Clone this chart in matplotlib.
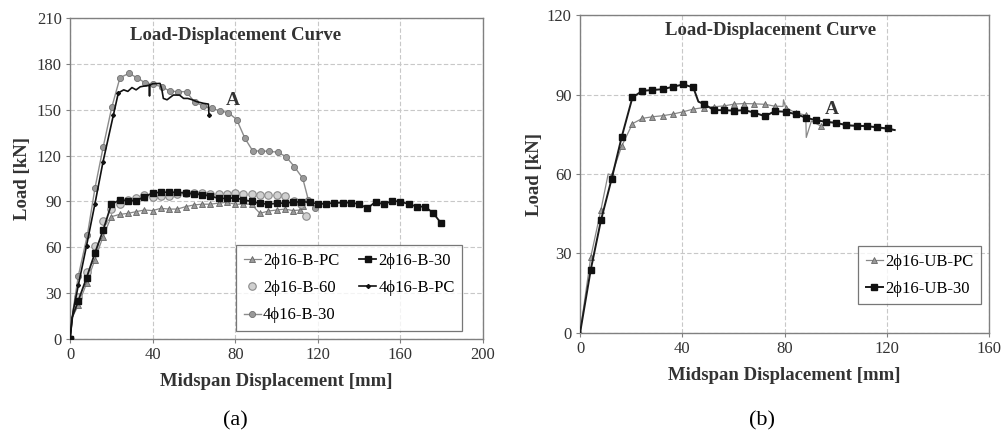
import matplotlib
matplotlib.use('Agg')
import matplotlib.pyplot as plt

plt.rcParams['font.family'] = ['Liberation Serif', 'DejaVu Serif']

# ---- panel (a) data, midspan displacement [mm] / load [kN]
b_pc_x = [0, 1, 4, 8, 12, 16, 20, 24, 28, 32, 36, 40, 44, 48, 52, 56, 60, 64, 68, 72, 76,
          80, 84, 88, 90, 92, 96, 100, 104, 108, 111.5, 112.7]
b_pc_y = [0, 14, 22, 36.4, 51.7, 67, 80, 81.5, 82.2, 83.3, 84.4, 84, 85.5, 85, 85, 86.6, 87.7,
          88.2, 88.2, 88.9, 89.4, 88.2, 88.2, 88.2, 85, 82.2, 83.7, 84.4, 85, 84, 84.4, 87]

b_30_x = [0, 1, 4, 8, 12, 16, 20, 24, 28, 32, 36, 40, 44, 48, 52, 56, 60, 64, 68, 72, 76, 80,
          84, 88, 92, 96, 100, 104, 108, 112, 116, 120, 124, 128, 132, 136, 140, 144, 148, 152,
          156, 160, 164, 168, 172, 176, 179.7]
b_30_y = [0, 14, 25, 40, 56, 71, 88, 91, 90.5, 90.5, 93, 95.5, 96, 96, 96, 95.5, 95, 94.5, 93.5,
          92, 92, 92.4, 91, 90, 88.7, 88.3, 88.7, 89, 89.5, 89.8, 89.5, 88.3, 88.6, 89, 89.2, 89.2,
          88.3, 85.5, 89.8, 88, 90.5, 89.8, 88.3, 86.6, 86.6, 82.2, 75.7]

b_60_x = [0, 4, 8, 12, 16, 20, 24, 28, 32, 36, 40, 44, 48, 52, 56, 60, 64, 68, 72, 76, 80, 84,
          88, 92, 96, 100, 104, 108.5, 112, 114.3]
b_60_y = [0, 27.7, 44, 60.8, 77.2, 84.8, 88.2, 91, 92.2, 94.4, 93, 93.4, 93.4, 95, 95.7, 95.7,
          95.3, 94.6, 94.6, 95, 95.7, 94.6, 94.6, 94, 94, 94, 93.4, 90.5, 88, 80.5]

b4_pc_x = [0, 1.5, 4, 8, 12, 16, 21, 23.4, 26, 28, 30, 32, 34, 36, 38.4, 38.5, 38.6, 40, 43.6,
           44.5, 45.2, 47, 50, 53, 55, 57, 59, 61.3, 64.6, 67, 67.3]
b4_pc_y = [0, 18, 35, 61, 88, 116, 146.5, 161, 163, 162, 164.5, 163, 165, 165.5, 166, 159, 166,
           167, 167.2, 163, 157.4, 156.5, 159.6, 159.6, 157.4, 157.4, 156.6, 155.3, 154.2, 153.7, 146.5]

b4_30_x = [0, 1.5, 4, 8.4, 12.1, 16.1, 20.2, 24.2, 28.6, 32.3, 36.3, 40.4, 44.4, 48.4, 52.4,
           56.5, 58.5, 60.5, 64.6, 68.6, 72.6, 76.7, 80.7, 84.7, 88.5, 92.5, 96.5, 100.5, 104.6,
           108.6, 112.7, 115.4, 118.4]
b4_30_y = [0, 19, 41, 68, 98.8, 125.8, 151.5, 171, 173.8, 171, 167.7, 166.6, 165, 162.2, 161.8,
           161.8, 158, 155, 152.4, 150.8, 149.3, 148, 143.6, 131.3, 123, 123, 122.8, 122.2, 119.3,
           112.8, 105.1, 91, 86]

# ---- panel (b) data
ub_pc_x = [0, 4.2, 8.2, 11, 12.4, 16.3, 20.5, 24.4, 28.3, 32.3, 36.2, 40.4, 44.3, 48.5, 52.4,
           56.4, 60.3, 64.2, 68.1, 72.3, 76.2, 79.4, 79.6, 80.4, 84.3, 88.3, 88.5, 90.5, 94.2,
           98, 102, 106, 110, 114, 118, 123]
ub_pc_y = [0, 28.7, 46.6, 60, 59.6, 70.5, 79, 81, 81.6, 82, 82.6, 83.5, 84.5, 85.1, 85.4, 85.7,
           86.4, 86.6, 86.5, 86.3, 85.6, 85.5, 88, 85.1, 83.1, 82.2, 73.8, 80, 78.1, 79.4, 79,
           78.2, 78, 77.8, 77.2, 76.5]

ub_30_x = [0, 4.2, 8.2, 12.4, 16.3, 20.5, 24.4, 28.3, 32.3, 36.2, 40.4, 44.3, 46.3, 48.5, 52.4,
           56.4, 60.3, 64.2, 68.1, 72.3, 76.2, 80.4, 84.3, 88.3, 92.2, 96.4, 100.3, 104.2, 108.4,
           112.3, 116.3, 120.3, 123.1]
ub_30_y = [0, 23.9, 42.6, 58.3, 74, 88.9, 91.4, 91.7, 92, 92.9, 93.8, 92.7, 87.3, 86.4, 84.1,
           84.1, 83.9, 84.1, 83.2, 81.8, 83.7, 83.5, 82.6, 81.3, 80.3, 79.7, 79.3, 78.4, 78.2,
           78.1, 77.6, 77.2, 76.6]

a_labels = ['2\u03d516-B-PC', '2\u03d516-B-30', '2\u03d516-B-60', '4\u03d516-B-PC', '4\u03d516-B-30']
b_labels = ['2\u03d516-UB-PC', '2\u03d516-UB-30']


def skip(n, drop):
    return [i for i in range(n) if i not in drop]


fig = plt.figure(figsize=(10.03, 4.32), dpi=100)
ax1 = fig.add_axes([0.0698, 0.2153, 0.4118, 0.743])
ax2 = fig.add_axes([0.5783, 0.2292, 0.4078, 0.736])


def style_axes(ax, xmax, ymax, step_y, ylpad):
    ax.set_xlim(0, xmax)
    ax.set_ylim(0, ymax)
    ax.set_xticks(range(0, xmax + 1, 40))
    ax.set_yticks(range(0, ymax + 1, step_y))
    ax.grid(True, color='#c8c8c8', linestyle=(0, (4, 2)), linewidth=0.8)
    ax.set_axisbelow(True)
    for s in ax.spines.values():
        s.set_color('#808080')
        s.set_linewidth(1.0)
    ax.tick_params(length=3, width=0.8, color='#808080', labelsize=12, pad=3,
                   labelcolor='#333333')
    ax.set_xlabel('Midspan Displacement [mm]', fontsize=13.5, fontweight='bold',
                  color='#333333', labelpad=7)
    ax.set_ylabel('Load [kN]', fontsize=13.5, fontweight='bold', color='#333333',
                  labelpad=ylpad)


style_axes(ax1, 200, 210, 30, 4)
style_axes(ax2, 160, 120, 30, 3)

ax1.plot(b_pc_x, b_pc_y, color='#888888', lw=0.9, marker='^', ms=4.3,
         mfc='#999999', mec='#666666', mew=0.6, markevery=skip(len(b_pc_x), [1, 24]),
         label=a_labels[0], zorder=3)
ax1.plot(b_60_x, b_60_y, linestyle='none', marker='o', ms=5.4,
         mfc='#d0d0d0', mec='#8a8a8a', mew=0.8, label=a_labels[2], zorder=3)
ax1.plot(b_30_x, b_30_y, color='#1a1a1a', lw=1.3, marker='s', ms=4,
         mfc='#111111', mec='#111111', markevery=skip(len(b_30_x), [1]),
         label=a_labels[1], zorder=4)
ax1.plot(b4_30_x, b4_30_y, color='#8c8c8c', lw=1.0, marker='o', ms=4.4,
         mfc='#999999', mec='#707070', mew=0.6, markevery=skip(len(b4_30_x), [1, 16]),
         label=a_labels[4], zorder=3)
ax1.plot(b4_pc_x, b4_pc_y, color='#111111', lw=1.2, marker='D', ms=2,
         mfc='#111111', mec='#111111', markevery=[0, 2, 3, 4, 5, 6, 7, 30],
         label=a_labels[3], zorder=4)

h, l = ax1.get_legend_handles_labels()
hd = dict(zip(l, h))
# two columns, filled row by row: PC|30, 60|4PC, 4-30
col_order = [a_labels[0], a_labels[2], a_labels[4], a_labels[1], a_labels[3]]
leg = ax1.legend([hd[k] for k in col_order], col_order,
                 ncol=2, loc='lower right', bbox_to_anchor=(0.95, 0.025), borderaxespad=0,
                 fontsize=12, frameon=True, fancybox=False, edgecolor='#555555',
                 handlelength=1.0, handletextpad=0.15, columnspacing=1.2,
                 labelspacing=0.68, borderpad=0.45)
leg.get_frame().set_linewidth(0.9)

ax1.text(0.40, 0.947, 'Load-Displacement Curve', transform=ax1.transAxes,
         ha='center', va='center', fontsize=13.5, fontweight='bold', color='#333333')
ax1.text(78.8, 156, 'A', ha='center', va='center', fontsize=14, fontweight='bold',
         color='#333333')

ax2.plot(ub_pc_x, ub_pc_y, color='#888888', lw=0.9, marker='^', ms=4.3,
         mfc='#999999', mec='#666666', mew=0.6,
         markevery=[0, 1, 2, 4, 5, 6, 7, 8, 9, 10, 11, 12, 13, 14, 15, 16, 17, 18, 19, 20, 23,
                    24, 25, 28],
         label=b_labels[0], zorder=3)
ax2.plot(ub_30_x, ub_30_y, color='#1a1a1a', lw=1.4, marker='s', ms=4,
         mfc='#111111', mec='#111111', markevery=skip(len(ub_30_x), [0, 12, 32]),
         label=b_labels[1], zorder=4)
leg2 = ax2.legend(loc='lower right', bbox_to_anchor=(0.98, 0.09), borderaxespad=0,
                  fontsize=12, frameon=True, fancybox=False, edgecolor='#555555',
                  handlelength=1.0, handletextpad=0.15, labelspacing=0.68, borderpad=0.45)
leg2.get_frame().set_linewidth(0.9)

ax2.text(0.467, 0.95, 'Load-Displacement Curve', transform=ax2.transAxes,
         ha='center', va='center', fontsize=13.5, fontweight='bold', color='#333333')
ax2.text(98.5, 84.2, 'A', ha='center', va='center', fontsize=14, fontweight='bold',
         color='#333333')

fig.text(235 / 1003, 1 - 421 / 432, '(a)', ha='center', va='center', fontsize=16)
fig.text(762 / 1003, 1 - 421 / 432, '(b)', ha='center', va='center', fontsize=16)

fig.savefig('out.png', dpi=100)
